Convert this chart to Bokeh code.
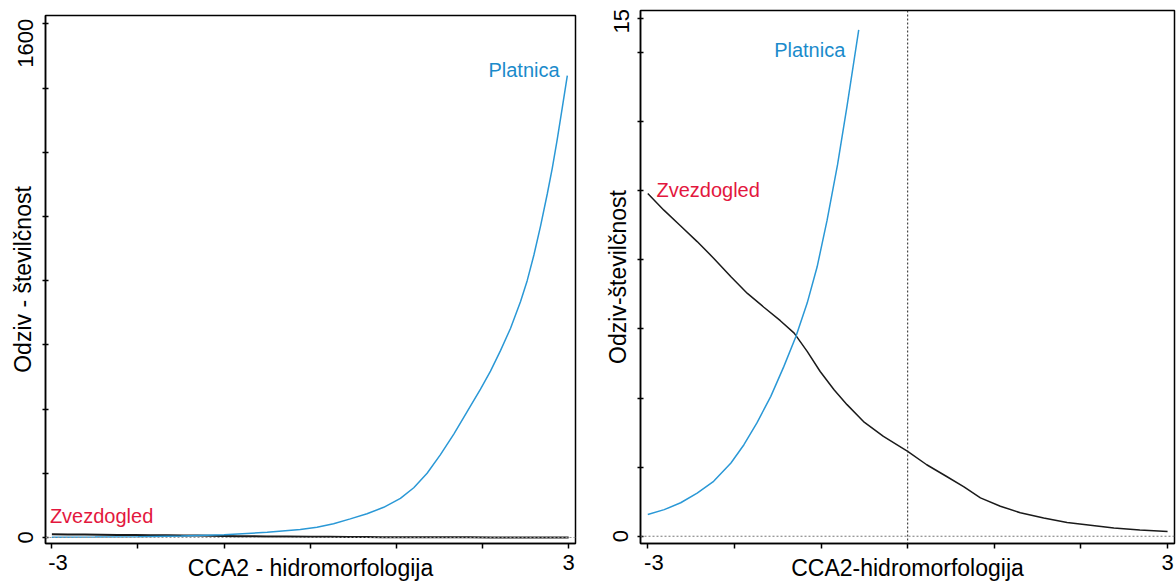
from bokeh.plotting import figure
from bokeh.layouts import row, column
from bokeh.models import Range1d, FixedTicker, Span, Label
from bokeh.embed import file_html
from bokeh.resources import INLINE

# Response curves along the second CCA axis (hydromorphology)
# Platnica, full range (left panel)
plat_x = [-3, -2.5, -2, -1.5, -1, -0.5, -0.116, 0.078, 0.271, 0.465, 0.659, 0.853,
          1.047, 1.202, 1.357, 1.512, 1.667, 1.822, 1.977, 2.093, 2.209, 2.326,
          2.442, 2.519, 2.597, 2.674, 2.752, 2.81, 2.868, 2.927, 2.985]
plat_y = [0.6, 1.2, 2.3, 4.5, 8.5, 16, 25, 32, 43, 58, 74, 94,
          122, 155, 200, 258, 322, 392, 462, 518, 582, 652,
          735, 800, 880, 970, 1070, 1150, 1240, 1340, 1439]

# Platnica, low-abundance part (right panel)
plat_zoom_x = [-3, -2.81, -2.62, -2.43, -2.24, -2.04, -1.89, -1.74, -1.58, -1.43,
               -1.29, -1.16, -1.045, -0.93, -0.81, -0.70, -0.565]
plat_zoom_y = [0.63, 0.77, 0.97, 1.25, 1.59, 2.12, 2.65, 3.28, 4.05, 4.91,
               5.78, 6.75, 7.80, 9.15, 10.75, 12.45, 14.66]

# Zvezdogled
zvez_x = [-3, -2.814, -2.62, -2.43, -2.24, -2.04, -1.85, -1.66, -1.47, -1.31, -1.16,
          -1.01, -0.85, -0.70, -0.51, -0.28, 0, 0.22, 0.45, 0.65, 0.84, 1.07, 1.30,
          1.57, 1.84, 2.11, 2.38, 2.68, 3.0]
zvez_y = [9.92, 9.44, 8.98, 8.53, 8.05, 7.51, 7.03, 6.63, 6.24, 5.88, 5.35,
          4.77, 4.24, 3.81, 3.32, 2.89, 2.46, 2.07, 1.73, 1.43, 1.11, 0.87, 0.68,
          0.53, 0.40, 0.32, 0.24, 0.18, 0.14]

NB = "\u00a0"

# Ticks and tick labels
x_ticks = [-3, -2, -1, 0, 1, 2, 3]
x_labels = {-3: NB * 2 + "-3", 3: "3"}
left_y_ticks = [0, 200, 400, 600, 800, 1000, 1200, 1400, 1600]
left_y_labels = {0: "0", 1600: "1600" + NB * 3}
right_y_ticks = [0, 2, 4, 6, 8, 10, 12, 14, 15]
right_y_labels = {0: "0", 15: "15" + NB}

FONT = "Liberation Sans"
BLUE_LINE = "#2a98d6"
BLUE_TEXT = "#1b8bcb"
RED_TEXT = "#e3173e"
BLACK = "#1a1a1a"


def style(p, xlabel, ylabel, yticks, ylabels):
    p.xgrid.visible = False
    p.ygrid.visible = False
    p.outline_line_color = "black"
    p.outline_line_width = 1.5
    p.outline_line_alpha = 1
    p.background_fill_color = "white"
    p.border_fill_color = "white"

    ax = p.xaxis[0]
    ax.ticker = FixedTicker(ticks=x_ticks)
    ax.major_label_overrides = {t: x_labels.get(t, "") for t in x_ticks}
    ax.major_tick_out = 5
    ax.major_tick_in = 0
    ax.minor_tick_line_color = None
    ax.axis_line_width = 1.5
    ax.major_tick_line_width = 1.5
    ax.major_label_text_font = FONT
    ax.major_label_text_font_size = "22px"
    ax.major_label_text_color = "black"
    ax.major_label_standoff = 1
    ax.axis_label = xlabel
    ax.axis_label_text_font = FONT
    ax.axis_label_text_font_size = "23px"
    ax.axis_label_text_font_style = "normal"
    ax.axis_label_text_color = "black"
    ax.axis_label_standoff = -23

    ay = p.yaxis[0]
    ay.ticker = FixedTicker(ticks=yticks)
    ay.major_label_overrides = {t: ylabels.get(t, "") for t in yticks}
    ay.major_label_orientation = "vertical"
    ay.major_tick_out = 3
    ay.major_tick_in = 3
    ay.minor_tick_line_color = None
    ay.axis_line_width = 1.5
    ay.major_tick_line_width = 1.5
    ay.major_label_text_font = FONT
    ay.major_label_text_font_size = "22px"
    ay.major_label_text_color = "black"
    ay.major_label_standoff = 4
    ay.axis_label = ylabel
    ay.axis_label_text_font = FONT
    ay.axis_label_text_font_size = "23px"
    ay.axis_label_text_font_style = "normal"
    ay.axis_label_text_color = "black"
    ay.axis_label_standoff = -25


# Left panel: full abundance scale
p1 = figure(width=590, height=583, x_range=Range1d(-3.074, 3.08), y_range=Range1d(-18.7, 1626),
            output_backend="svg", toolbar_location=None,
            min_border_left=45, min_border_right=15, min_border_top=15, min_border_bottom=40)
style(p1, "CCA2 - hidromorfologija", "Odziv - številčnost", left_y_ticks, left_y_labels)
p1.add_layout(Span(location=0, dimension="width", line_color="#999999", line_dash="2 2", line_width=1))
p1.line(zvez_x, zvez_y, line_color=BLACK, line_width=2)
p1.line(plat_x, plat_y, line_color=BLUE_LINE, line_width=1.5)
p1.add_layout(Label(x=2.895, y=1455, text="Platnica", text_align="right", text_baseline="alphabetic",
                    text_color=BLUE_TEXT, text_font=FONT, text_font_size="20px"))
p1.add_layout(Label(x=-3.023, y=68.5, text="Zvezdogled", text_align="left", text_baseline="alphabetic",
                    text_color=RED_TEXT, text_font=FONT, text_font_size="20px"))

# Right panel: low abundance detail
p2 = figure(width=586, height=583, x_range=Range1d(-3.084, 3.08), y_range=Range1d(-0.21, 15.22),
            output_backend="svg", toolbar_location=None,
            min_border_left=50, min_border_right=2, min_border_top=10, min_border_bottom=39)
style(p2, "CCA2-hidromorfologija", "Odziv-številčnost", right_y_ticks, right_y_labels)
p2.add_layout(Span(location=0, dimension="width", line_color="#777777", line_dash="2 2", line_width=1))
p2.add_layout(Span(location=0, dimension="height", line_color="#222222", line_dash="2 2", line_width=1))
p2.line(zvez_x, zvez_y, line_color=BLACK, line_width=1.5)
p2.line(plat_zoom_x, plat_zoom_y, line_color=BLUE_LINE, line_width=1.5)
p2.add_layout(Label(x=-0.72, y=14.07, text="Platnica", text_align="right", text_baseline="alphabetic",
                    text_color=BLUE_TEXT, text_font=FONT, text_font_size="20px"))
p2.add_layout(Label(x=-2.90, y=10.02, text="Zvezdogled", text_align="left", text_baseline="alphabetic",
                    text_color=RED_TEXT, text_font=FONT, text_font_size="20px"))

layout = row(column(p1), column(p2))
open("out.html", "w").write(file_html(layout, INLINE))
